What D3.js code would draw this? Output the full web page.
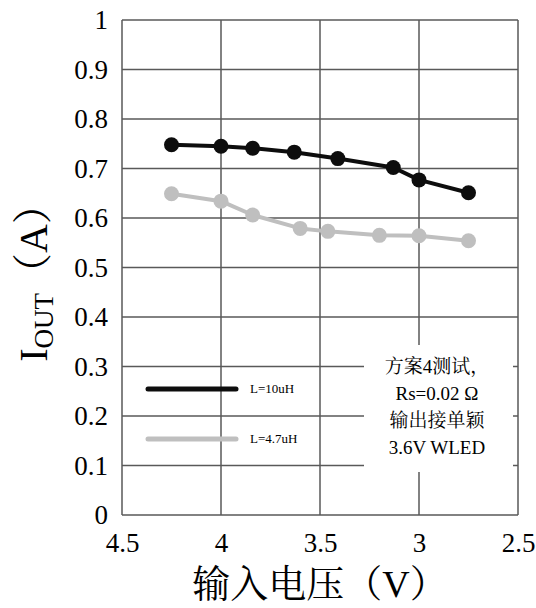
<!DOCTYPE html>
<html><head><meta charset="utf-8">
<script src="https://cdn.jsdelivr.net/npm/d3@7"></script>
<style>body{margin:0;background:#fff}svg{display:block}
svg text{font-family:"Liberation Serif","Noto Serif CJK SC","Noto Sans CJK SC",serif;}
</style>
</head><body>
<script>
const vinL10 = [4.25, 4.0, 3.84, 3.63, 3.41, 3.13, 3.0, 2.75];
const ioutL10 = [0.748, 0.745, 0.741, 0.733, 0.720, 0.702, 0.677, 0.651];
const vinL47 = [4.25, 4.0, 3.84, 3.60, 3.46, 3.20, 3.0, 2.75];
const ioutL47 = [0.649, 0.634, 0.606, 0.579, 0.573, 0.565, 0.564, 0.554];
const seriesNames = ["L=10uH", "L=4.7uH"];
const xTicks = [4.5, 4, 3.5, 3, 2.5];
const yTicks = [0, 0.1, 0.2, 0.3, 0.4, 0.5, 0.6, 0.7, 0.8, 0.9, 1];
const noteLines = ["方案4测试，", "Rs=0.02 Ω", "输出接单颖", "3.6V WLED"];

const W = 536, H = 608;
const m = {l: 122, r: 18, t: 20, b: 93};
const svg = d3.select("body").append("svg").attr("width", W).attr("height", H);
const x = d3.scaleLinear().domain([4.5, 2.5]).range([m.l, W - m.r]);
const y = d3.scaleLinear().domain([0, 1]).range([H - m.b, m.t]);
const gridCol = "#595959";

svg.append("g").selectAll("line").data(yTicks).join("line")
  .attr("x1", m.l).attr("x2", W - m.r).attr("y1", d => y(d)).attr("y2", d => y(d))
  .attr("stroke", gridCol).attr("stroke-width", 1.5);
svg.append("g").selectAll("line").data(xTicks).join("line")
  .attr("y1", m.t).attr("y2", H - m.b).attr("x1", d => x(d)).attr("x2", d => x(d))
  .attr("stroke", gridCol).attr("stroke-width", 1.5);

const yAxis = svg.append("g").attr("transform", `translate(${m.l},0)`)
  .call(d3.axisLeft(y).tickValues(yTicks).tickSize(0).tickPadding(14).tickFormat(d3.format("")));
yAxis.attr("font-family", null).attr("font-size", null);
yAxis.select(".domain").remove();
yAxis.selectAll("text").style("font-size", "27px").attr("fill", "#000");
const xAxis = svg.append("g").attr("transform", `translate(0,${H - m.b})`)
  .call(d3.axisBottom(x).tickValues(xTicks).tickSize(0).tickPadding(18).tickFormat(d3.format("")));
xAxis.attr("font-family", null).attr("font-size", null);
xAxis.select(".domain").remove();
xAxis.selectAll("text").style("font-size", "27px").attr("fill", "#000");

const series = [
  {name: seriesNames[0], xs: vinL10, ys: ioutL10, color: "#0d0d0d"},
  {name: seriesNames[1], xs: vinL47, ys: ioutL47, color: "#bfbfbf"}
];
const line = d3.line().x(d => x(d[0])).y(d => y(d[1]));
series.forEach(s => {
  const pts = s.xs.map((v, i) => [v, s.ys[i]]);
  svg.append("path").datum(pts).attr("d", line).attr("fill", "none")
    .attr("stroke", s.color).attr("stroke-width", 4).attr("stroke-linejoin", "round");
  svg.append("g").selectAll("circle").data(pts).join("circle")
    .attr("cx", d => x(d[0])).attr("cy", d => y(d[1])).attr("r", 7.5).attr("fill", s.color);
});

series.forEach((s, i) => {
  const ly = 389 + i * 50;
  svg.append("line").attr("x1", 148).attr("x2", 236).attr("y1", ly).attr("y2", ly)
    .attr("stroke", s.color).attr("stroke-width", 5).attr("stroke-linecap", "round");
  svg.append("text").attr("x", 250).attr("y", ly + 4).text(s.name)
    .style("font-size", "13px").attr("fill", "#000");
});

svg.append("rect").attr("x", 364).attr("y", 345).attr("width", 149).attr("height", 127).attr("fill", "#fff");
svg.append("g").selectAll("text").data(noteLines).join("text")
  .attr("x", 437).attr("y", (d, i) => 373 + i * 27).attr("text-anchor", "middle")
  .style("font-size", "19px").attr("fill", "#000").text(d => d);

svg.append("text").attr("x", 320).attr("y", 597).attr("text-anchor", "middle")
  .style("font-size", "38px").attr("fill", "#000").text("输入电压（V）");
const yt = svg.append("text").attr("transform", "translate(47,273) rotate(-90)")
  .attr("text-anchor", "middle").style("font-size", "40px").attr("fill", "#000");
yt.append("tspan").text("I");
yt.append("tspan").style("font-size", "27px").attr("dy", 6).text("OUT");
yt.append("tspan").attr("dy", -6).text("（A）");
</script>
</body></html>
